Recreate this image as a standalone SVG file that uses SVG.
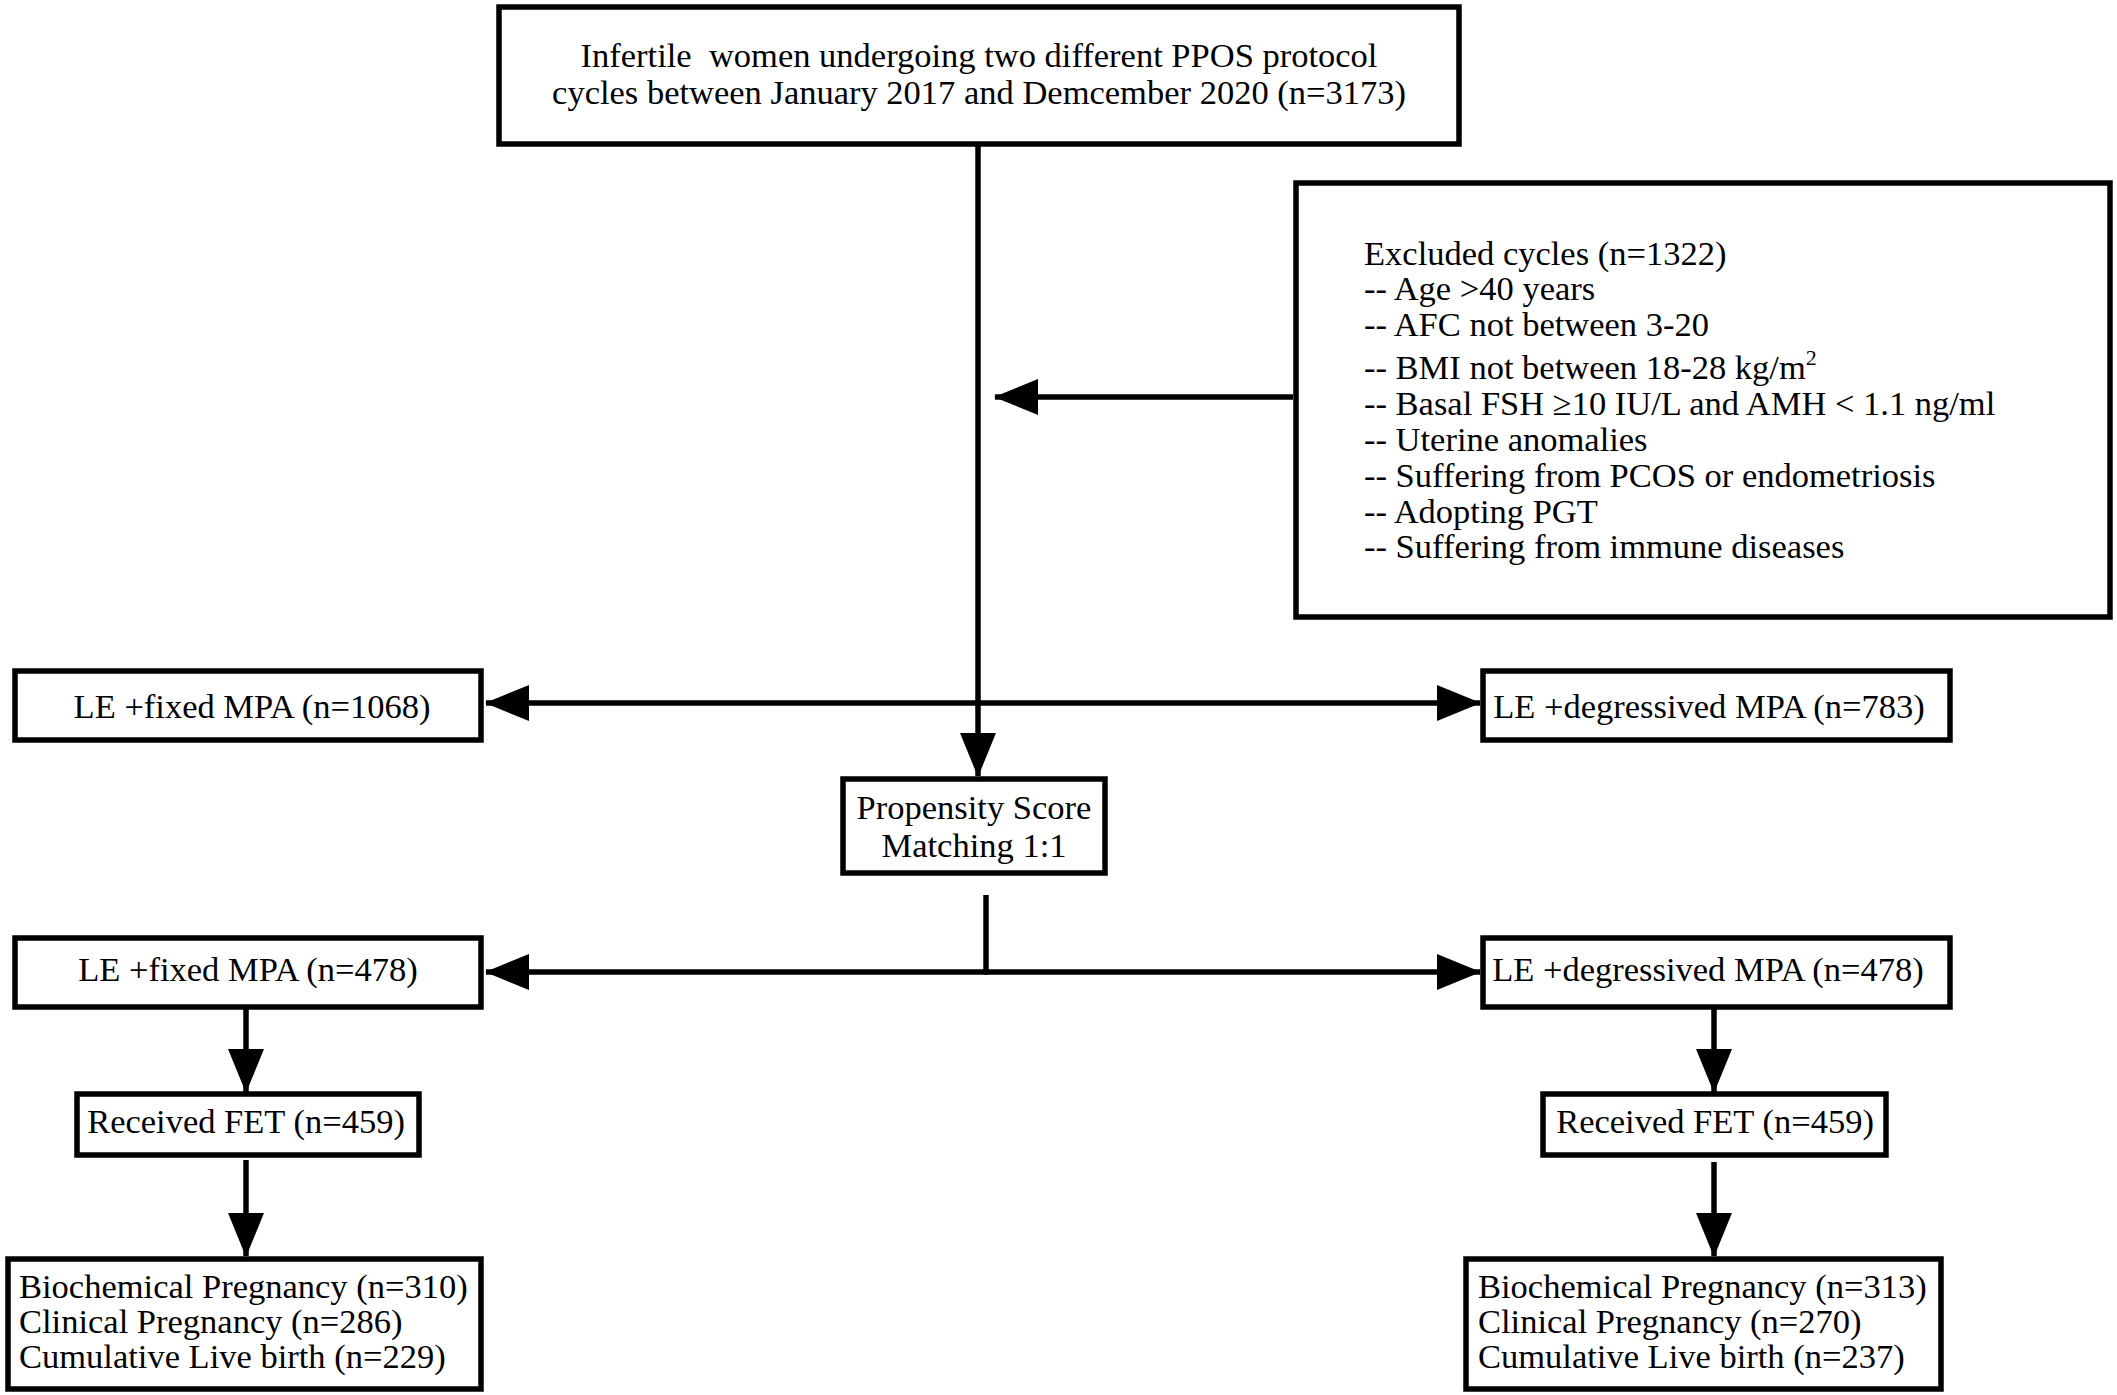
<svg xmlns="http://www.w3.org/2000/svg" width="2117" height="1395" viewBox="0 0 2117 1395">
<style>
.box{fill:#fff;stroke:#000;stroke-width:5.5}
.t{font-family:"Liberation Serif","Times New Roman",serif;font-size:34.5px;fill:#000}
.c{text-anchor:middle}
.ln{stroke:#000;stroke-width:5.5;fill:none}
.arr{marker-end:url(#ah)}
</style>
<defs>
<marker id="ah" markerUnits="userSpaceOnUse" markerWidth="44" markerHeight="36" refX="43" refY="18" orient="auto" viewBox="0 0 44 36">
<path d="M0,0 L44,18 L0,36 Z" fill="#000"/>
</marker>
</defs>
<rect width="2117" height="1395" fill="#fff"/>
<g id="connectors">
<line class="ln arr" x1="978" y1="146" x2="978" y2="776"/>
<line class="ln arr" x1="1293" y1="397" x2="995" y2="397"/>
<line class="ln arr" x1="980" y1="703" x2="486" y2="703"/>
<line class="ln arr" x1="976" y1="703" x2="1480" y2="703"/>
<line class="ln" x1="986" y1="895" x2="986" y2="974"/>
<line class="ln arr" x1="988" y1="972" x2="486" y2="972"/>
<line class="ln arr" x1="984" y1="972" x2="1480" y2="972"/>
<line class="ln arr" x1="246" y1="1008" x2="246" y2="1092"/>
<line class="ln arr" x1="246" y1="1160" x2="246" y2="1256"/>
<line class="ln arr" x1="1714" y1="1008" x2="1714" y2="1092"/>
<line class="ln arr" x1="1714" y1="1162" x2="1714" y2="1256"/>
</g>
<g id="n-start">
<rect class="box" x="499" y="7" width="960" height="137"/>
<text class="t c" x="979" y="67" xml:space="preserve">Infertile  women undergoing two different PPOS protocol</text>
<text class="t c" x="979" y="104" font-size="35.5">cycles between January 2017 and Demcember 2020 (n=3173)</text>
</g>
<g id="n-excluded">
<rect class="box" x="1296" y="183" width="814" height="434"/>
<text class="t" x="1364" y="265">Excluded cycles (n=1322)</text>
<text class="t" x="1364" y="300">-- Age &gt;40 years</text>
<text class="t" x="1364" y="336">-- AFC not between 3-20</text>
<text class="t" x="1364" y="379">-- BMI not between 18-28 kg/m<tspan font-size="22" dy="-14">2</tspan></text>
<text class="t" x="1364" y="415">-- Basal FSH ≥10 IU/L and AMH &lt; 1.1 ng/ml</text>
<text class="t" x="1364" y="451">-- Uterine anomalies</text>
<text class="t" x="1364" y="487">-- Suffering from PCOS or endometriosis</text>
<text class="t" x="1364" y="523">-- Adopting PGT</text>
<text class="t" x="1364" y="558">-- Suffering from immune diseases</text>
</g>
<g id="n-fixed1">
<rect class="box" x="15" y="671" width="466" height="69"/>
<text class="t c" x="252" y="718">LE +fixed MPA (n=1068)</text>
</g>
<g id="n-deg1">
<rect class="box" x="1483" y="671" width="467" height="69"/>
<text class="t c" x="1709" y="718">LE +degressived MPA (n=783)</text>
</g>
<g id="n-psm">
<rect class="box" x="843" y="779" width="262" height="94"/>
<text class="t c" x="974" y="819" font-size="33.5">Propensity Score</text>
<text class="t c" x="974" y="857" font-size="33.5">Matching 1:1</text>
</g>
<g id="n-fixed2">
<rect class="box" x="15" y="938" width="466" height="69"/>
<text class="t c" x="248" y="981">LE +fixed MPA (n=478)</text>
</g>
<g id="n-deg2">
<rect class="box" x="1483" y="938" width="467" height="69"/>
<text class="t c" x="1708" y="981">LE +degressived MPA (n=478)</text>
</g>
<g id="n-fet1">
<rect class="box" x="77" y="1094" width="342" height="61"/>
<text class="t c" x="246" y="1133">Received FET (n=459)</text>
</g>
<g id="n-fet2">
<rect class="box" x="1543" y="1094" width="343" height="61"/>
<text class="t c" x="1715" y="1133">Received FET (n=459)</text>
</g>
<g id="n-out1">
<rect class="box" x="8" y="1259" width="473" height="130"/>
<text class="t" x="19" y="1298">Biochemical Pregnancy (n=310)</text>
<text class="t" x="19" y="1333">Clinical Pregnancy (n=286)</text>
<text class="t" x="19" y="1368">Cumulative Live birth (n=229)</text>
</g>
<g id="n-out2">
<rect class="box" x="1466" y="1259" width="475" height="130"/>
<text class="t" x="1478" y="1298">Biochemical Pregnancy (n=313)</text>
<text class="t" x="1478" y="1333">Clinical Pregnancy (n=270)</text>
<text class="t" x="1478" y="1368">Cumulative Live birth (n=237)</text>
</g>
</svg>
